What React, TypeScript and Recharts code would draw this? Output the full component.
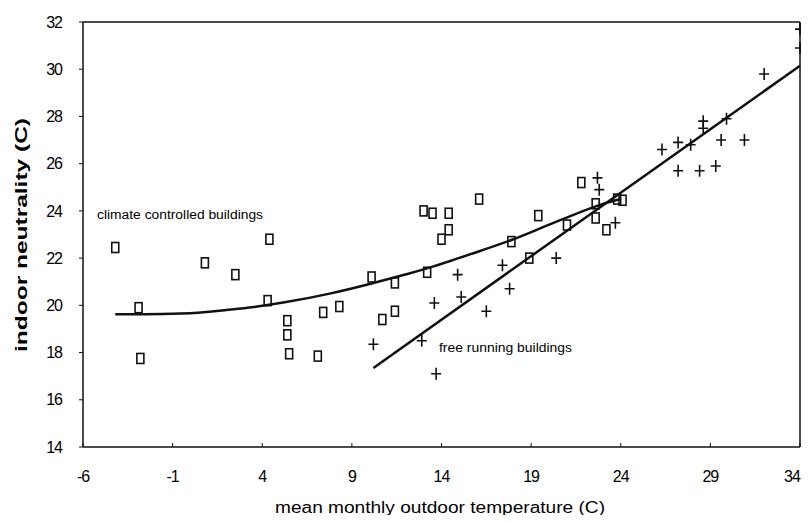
import React from "react";
import {
  ComposedChart,
  Scatter,
  Line,
  XAxis,
  YAxis,
  ReferenceLine,
} from "recharts";

// climate controlled buildings (squares)
const climateX = [
  -4.2, -2.9, -2.8, 0.8, 2.5, 4.4, 4.3, 5.4, 5.4, 5.5, 7.4, 7.1, 8.3, 10.1, 11.4, 10.7, 11.4,
  13.2, 13.0, 13.5, 14.4, 14.4, 14.0, 16.1, 19.4, 17.9, 21.0, 18.9, 21.8, 22.6, 22.6, 23.2, 23.8, 24.1,
];
const climateY = [
  22.45, 19.9, 17.75, 21.8, 21.3, 22.8, 20.2, 19.35, 18.75, 17.95, 19.7, 17.85, 19.95, 21.2, 20.95, 19.4, 19.75,
  21.4, 24.0, 23.9, 23.9, 23.2, 22.8, 24.5, 23.8, 22.7, 23.4, 22.0, 25.2, 24.3, 23.7, 23.2, 24.5, 24.45,
];

// free running buildings (crosses)
const freeX = [
  10.2, 12.9, 13.7, 13.6, 14.9, 15.1, 16.5, 17.4, 17.8, 20.4, 22.7, 22.8, 23.7, 26.3, 27.2, 27.9,
  28.6, 28.6, 29.9, 29.6, 30.9, 27.2, 28.4, 29.3, 32.0, 34.0, 34.0,
];
const freeY = [
  18.35, 18.5, 17.1, 20.1, 21.3, 20.35, 19.75, 21.7, 20.7, 22.0, 25.4, 24.9, 23.5, 26.6, 26.9, 26.8,
  27.8, 27.5, 27.9, 27.0, 27.0, 25.7, 25.7, 25.9, 29.8, 31.7, 30.9,
];

// fitted curves
const curveX = [-4.2, -1.5, 0.5, 2.0, 3.5, 5.15, 7.9, 10.2, 12.2, 13.2, 16.3, 18.0, 19.5, 20.6, 22.7, 24.0];
const curveY = [19.62, 19.62, 19.67, 19.8, 19.92, 20.1, 20.5, 20.94, 21.35, 21.55, 22.34, 22.78, 23.26, 23.6, 24.25, 24.5];
const lineX = [10.2, 34];
const lineY = [17.35, 30.15];

const xTicks = [-6, -1, 4, 9, 14, 19, 24, 29, 34];
const yTicks = [14, 16, 18, 20, 22, 24, 26, 28, 30, 32];

const zip = (xs: number[], ys: number[]) => xs.map((x, i) => ({ x, y: ys[i] }));

const climateData = zip(climateX, climateY);
const freeData = zip(freeX, freeY);
const curveData = zip(curveX, curveY);
const lineData = zip(lineX, lineY);

const FONT = '"Liberation Sans", Arial, sans-serif';
const INK = "#111";

const SquareMark = (props: any) => {
  const { cx, cy } = props;
  if (cx == null || cy == null) return null;
  return (
    <rect x={cx - 3.5} y={cy - 5} width={7} height={10} fill="none" stroke={INK} strokeWidth={1.6} />
  );
};

const CrossMark = (props: any) => {
  const { cx, cy } = props;
  if (cx == null || cy == null) return null;
  return (
    <path d={`M${cx - 5},${cy}H${cx + 5}M${cx},${cy - 6}V${cy + 6}`} stroke={INK} strokeWidth={1.6} fill="none" />
  );
};

// the page only shows up to x≈801, so the last label is nudged left to stay readable
const XTick = (props: any) => {
  const { x, y, payload } = props;
  const last = payload.value === xTicks[xTicks.length - 1];
  return (
    <text
      x={last ? x - 8 : x}
      y={y}
      dy="0.71em"
      textAnchor="middle"
      fill="#000"
      fontSize={16}
      fontFamily={FONT}
      letterSpacing={-1}
    >
      {payload.value}
    </text>
  );
};

const App: React.FC = () => {
  return (
    <div style={styles.page}>
      <ComposedChart
        width={809}
        height={523}
        margin={{ top: 22, right: 9, bottom: 0, left: 0 }}
      >
        <XAxis
          type="number"
          dataKey="x"
          domain={[-6, 34]}
          ticks={xTicks}
          interval={0}
          height={76}
          tickSize={-4}
          tickMargin={28}
          axisLine={{ stroke: INK, strokeWidth: 1.5 }}
          tickLine={{ stroke: INK }}
          tick={<XTick />}
        />
        <YAxis
          type="number"
          dataKey="y"
          domain={[14, 32]}
          ticks={yTicks}
          interval={0}
          width={83}
          tickSize={4}
          tickMargin={17}
          axisLine={{ stroke: INK, strokeWidth: 1.5 }}
          tickLine={{ stroke: INK }}
          tick={{ fill: "#000", fontSize: 16, fontFamily: FONT, letterSpacing: -1 }}
        />
        <ReferenceLine y={32} stroke={INK} strokeWidth={1.5} />
        <ReferenceLine x={34} stroke={INK} strokeWidth={1.5} />

        <Line
          data={curveData}
          dataKey="y"
          type="basis"
          stroke={INK}
          strokeWidth={2.5}
          dot={false}
          activeDot={false}
          isAnimationActive={false}
        />
        <Line
          data={lineData}
          dataKey="y"
          type="linear"
          stroke={INK}
          strokeWidth={2.5}
          dot={false}
          activeDot={false}
          isAnimationActive={false}
        />
        <Scatter data={climateData} shape={SquareMark} isAnimationActive={false} />
        <Scatter data={freeData} shape={CrossMark} isAnimationActive={false} />

        <text x={97} y={215} fontFamily={FONT} fontSize={12} textLength={166} lengthAdjust="spacingAndGlyphs" dominantBaseline="central" fill="#000">
          climate controlled buildings
        </text>
        <text x={439} y={348} fontFamily={FONT} fontSize={12} textLength={133} lengthAdjust="spacingAndGlyphs" dominantBaseline="central" fill="#000">
          free running buildings
        </text>
        <text x={440} y={507} fontFamily={FONT} fontSize={16} textLength={330} lengthAdjust="spacingAndGlyphs" textAnchor="middle" dominantBaseline="central" fill="#000">
          mean monthly outdoor temperature (C)
        </text>
        <text transform="translate(21,235) rotate(-90)" fontFamily={FONT} fontSize={16} fontWeight="bold" textLength={234} lengthAdjust="spacingAndGlyphs" textAnchor="middle" dominantBaseline="central" fill="#000">
          indoor neutrality (C)
        </text>
      </ComposedChart>
    </div>
  );
};

const styles: { [key: string]: React.CSSProperties } = {
  page: {
    margin: "-8px",
    width: "809px",
    height: "523px",
    background: "#fff",
  },
};

export default App;
